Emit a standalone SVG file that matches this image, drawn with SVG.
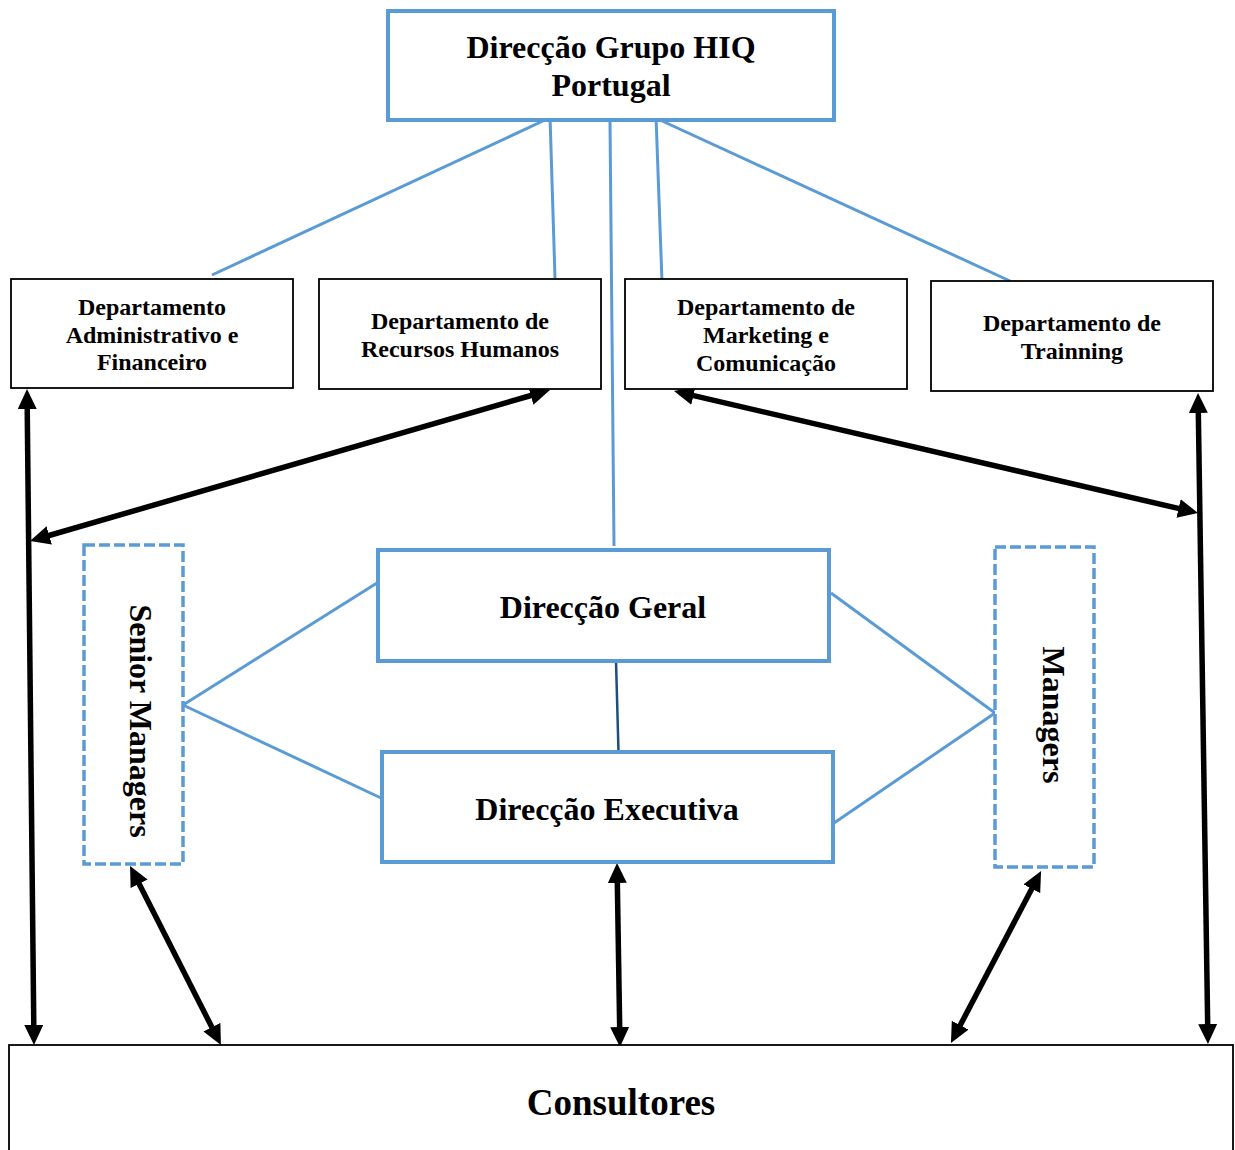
<svg xmlns="http://www.w3.org/2000/svg" width="1235" height="1150" viewBox="0 0 1235 1150">
  <style>
    .t { font-family: "Liberation Serif", "Times New Roman", serif; font-weight: bold; fill: #000; text-anchor: middle; }
    .dept { font-size: 24px; }
    .big { font-size: 32px; }
    .blue { fill: #fff; stroke: #5b9bd5; stroke-width: 4; }
    .dash { fill: #fff; stroke: #5b9bd5; stroke-width: 3.5; stroke-dasharray: 11 4; }
    .box { fill: #fff; stroke: #000; stroke-width: 1.8; }
    .conn { stroke: #5b9bd5; stroke-width: 3; fill: none; }
    .arr { stroke: #000; stroke-width: 5.5; fill: none; marker-start: url(#ah); marker-end: url(#ah); }
  </style>
  <defs>
    <marker id="ah" markerUnits="userSpaceOnUse" markerWidth="22" markerHeight="20" refX="2" refY="9.5" orient="auto-start-reverse" viewBox="0 0 22 20">
      <path d="M0,0 L20,9.5 L0,19 z" fill="#000"/>
    </marker>
  </defs>
  <rect width="1235" height="1150" fill="#fff"/>

  <g id="connectors">
    <line class="conn" x1="545" y1="120" x2="212" y2="275"/>
    <line class="conn" x1="550" y1="116" x2="555" y2="278"/>
    <line class="conn" x1="610" y1="121" x2="614" y2="546"/>
    <line class="conn" x1="656" y1="116" x2="662" y2="282"/>
    <line class="conn" x1="660" y1="120" x2="1010" y2="281"/>
    <line class="conn" x1="183" y1="705" x2="377" y2="583"/>
    <line class="conn" x1="183" y1="705" x2="381" y2="798"/>
    <line class="conn" x1="831" y1="593" x2="995" y2="713"/>
    <line class="conn" x1="995" y1="713" x2="834" y2="823"/>
    <line x1="616" y1="661" x2="618.5" y2="752" stroke="#1f4e79" stroke-width="2.5"/>
    <line class="arr" x1="27.2" y1="407" x2="33.8" y2="1027"/>
    <line class="arr" x1="532.7" y1="395" x2="47.3" y2="536"/>
    <line class="arr" x1="691.5" y1="395.1" x2="1180.5" y2="508.9"/>
    <line class="arr" x1="1198.3" y1="411" x2="1207.7" y2="1026"/>
    <line class="arr" x1="138.2" y1="882" x2="212.8" y2="1029"/>
    <line class="arr" x1="617.3" y1="881" x2="619.7" y2="1029"/>
    <line class="arr" x1="1032.7" y1="887" x2="959.3" y2="1027"/>
  </g>

  <g id="direccao-grupo">
    <rect class="blue" x="388" y="11" width="446" height="109" stroke-width="5"/>
    <text class="t big" x="611" y="58">Direcção Grupo HIQ</text>
    <text class="t big" x="611" y="96">Portugal</text>
  </g>

  <g id="dept-admin">
    <rect class="box" x="11" y="279" width="282" height="109" stroke="#1f3864"/>
    <text class="t dept" x="152" y="315">Departamento</text>
    <text class="t dept" x="152" y="343">Administrativo e</text>
    <text class="t dept" x="152" y="370">Financeiro</text>
  </g>

  <g id="dept-rh">
    <rect class="box" x="319" y="279" width="282" height="110"/>
    <text class="t dept" x="460" y="329">Departamento de</text>
    <text class="t dept" x="460" y="357">Recursos Humanos</text>
  </g>

  <g id="dept-marketing">
    <rect class="box" x="625" y="279" width="282" height="110"/>
    <text class="t dept" x="766" y="315">Departamento de</text>
    <text class="t dept" x="766" y="343">Marketing e</text>
    <text class="t dept" x="766" y="371">Comunicação</text>
  </g>

  <g id="dept-training">
    <rect class="box" x="931" y="281" width="282" height="110"/>
    <text class="t dept" x="1072" y="331">Departamento de</text>
    <text class="t dept" x="1072" y="359">Trainning</text>
  </g>

  <g id="direccao-geral">
    <rect class="blue" x="378" y="550" width="451" height="111" stroke-width="3.5"/>
    <text class="t big" x="603" y="618">Direcção Geral</text>
  </g>

  <g id="direccao-executiva">
    <rect class="blue" x="382" y="752" width="451" height="110" stroke-width="3.5"/>
    <text class="t big" x="607" y="820">Direcção Executiva</text>
  </g>

  <g id="senior-managers">
    <rect class="dash" x="84" y="545" width="99" height="319"/>
    <text class="t big" transform="translate(130,721) rotate(90)">Senior Managers</text>
  </g>

  <g id="managers">
    <rect class="dash" x="995" y="547" width="99" height="320"/>
    <text class="t big" transform="translate(1043,715) rotate(90)">Managers</text>
  </g>

  <g id="consultores">
    <rect class="box" x="9" y="1045" width="1224" height="120" stroke-width="2"/>
    <text class="t" x="621" y="1115" font-size="37">Consultores</text>
  </g>
</svg>
